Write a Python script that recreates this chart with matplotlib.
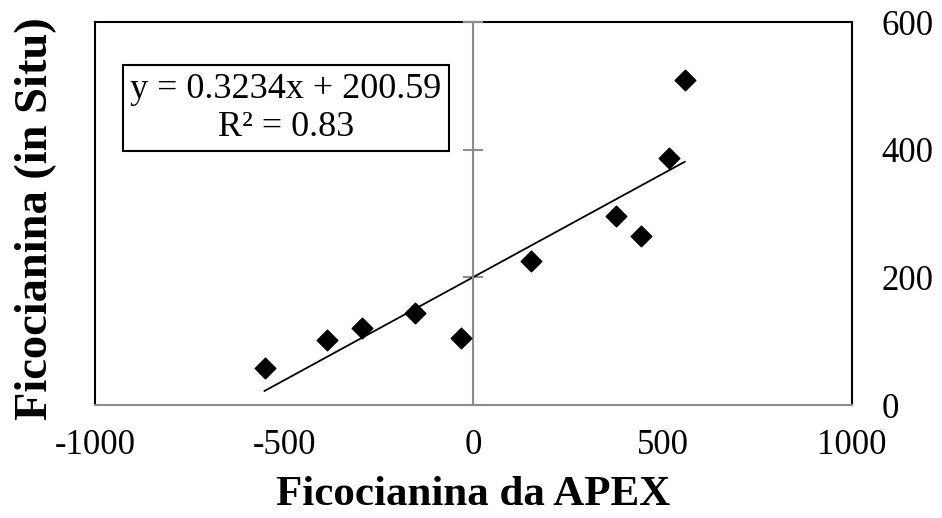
import numpy as np
import matplotlib.pyplot as plt

plt.rcParams['font.family'] = ['Liberation Serif', 'DejaVu Serif']
plt.rcParams['axes.unicode_minus'] = False

# data
apex = [-552, -387, -295, -154, -33, 151, 377, 442, 516, 558]
in_situ = [58, 102, 121, 144, 105, 226, 296, 265, 387, 509]
slope = 0.3234
intercept = 200.59
x_ticks = [-1000, -500, 0, 500, 1000]
y_ticks = [0, 200, 400, 600]

fig = plt.figure(figsize=(9.42, 5.18), dpi=100)
ax = fig.add_axes([0.1008, 0.2181, 0.8037, 0.7394])

ax.scatter(apex, in_situ, marker='D', s=110, color='black', zorder=3)

# linear trendline over the data range
xl = np.array([min(apex), max(apex)])
ax.plot(xl, slope * xl + intercept, color='black', lw=1.3, zorder=2)

ax.set_xlim(-1000, 1000)
ax.set_ylim(0, 600)
ax.set_xticks(x_ticks)
ax.set_yticks(y_ticks)

# y axis crosses at x = 0, labels sit outside on the right
ax.spines['left'].set_position(('data', 0))
ax.spines['left'].set_color('#8c8c8c')
ax.spines['left'].set_linewidth(1.5)
ax.spines['bottom'].set_color('#8c8c8c')
ax.spines['bottom'].set_linewidth(1.5)
ax.spines['top'].set_linewidth(1.5)
ax.spines['top'].set_zorder(1)
ax.spines['right'].set_linewidth(1.5)
# left edge of the plot box
ax.axvline(-1000, color='black', lw=1.5, clip_on=False)

ax.tick_params(axis='y', left=True, right=False, labelleft=False, labelright=True,
               direction='inout', length=14, width=1.5, color='#8c8c8c',
               labelsize=25, pad=14)
ax.tick_params(axis='x', length=0, labelsize=25, pad=17)

ax.set_xlabel('Ficocianina da APEX', fontsize=31, fontweight='bold', labelpad=10)
fig.text(36 / 942, 1 - 219 / 518, 'Ficocianina (in Situ)', fontsize=33.5,
         fontweight='bold', rotation=90, ha='center', va='center')

ax.text(-495, 465, 'y = 0.3234x + 200.59\nR² = 0.83', fontsize=26,
        ha='center', va='center', linespacing=1.2,
        bbox=dict(boxstyle='square,pad=0.2', fc='white', ec='black', lw=1.5))

fig.savefig('out.png', dpi=100)
